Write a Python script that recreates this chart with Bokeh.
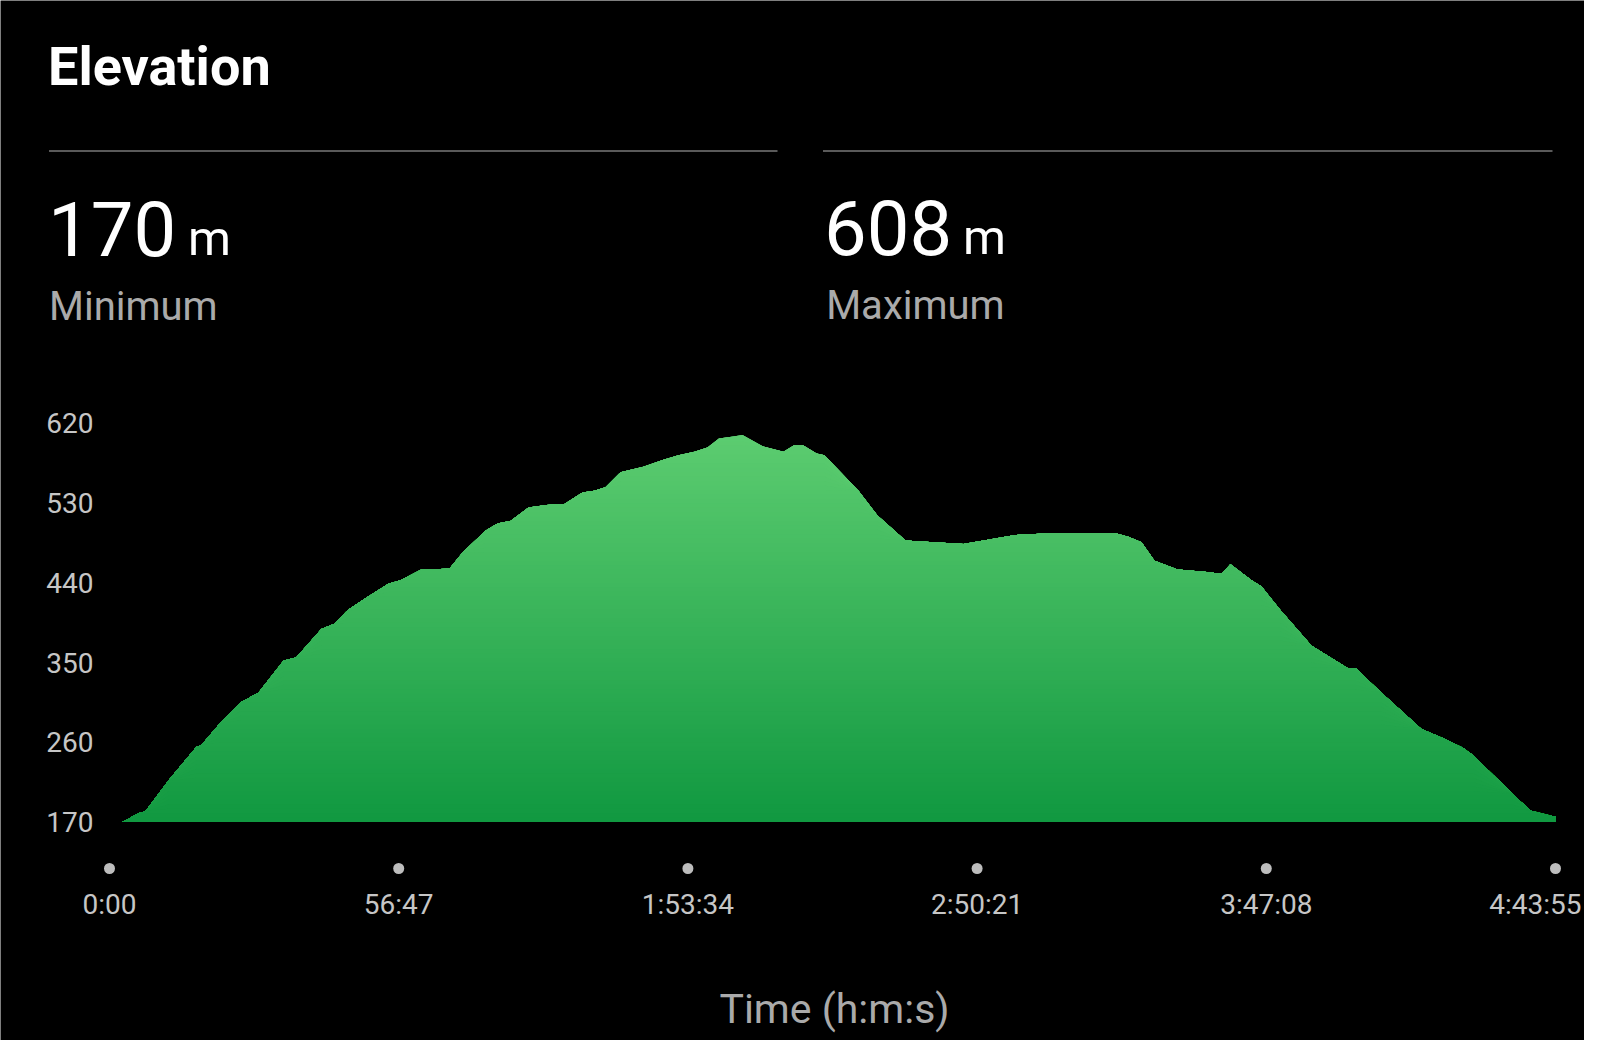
import numpy as np
from bokeh.plotting import figure
from bokeh.models import Range1d
from bokeh.core.properties import value
from bokeh.embed import file_html
from bokeh.resources import INLINE

# ---------------- data ----------------
time_s = [0, 153, 342, 424, 695, 1025, 1084, 1296, 1543, 1755, 2050, 2203, 2497, 2651,
          2804, 3039, 3287, 3428, 3675, 4005, 4158, 4429, 4571, 4724, 4936, 5148, 5360,
          5572, 5713, 5843, 6020, 6290, 6526, 6703, 6891, 7044, 7180, 7330, 7457, 7700,
          7940, 8060, 8175, 8330, 8423, 8823, 9047, 9377, 9506, 10060, 10366, 10673,
          11085, 11851, 12000, 12157, 12310, 12581, 12958, 13100, 13205, 13453, 13571,
          13795, 14160, 14584, 14678, 14984, 15455, 15726, 15938, 16068, 16527, 16739,
          16986, 17035]
elev_m = [170, 170, 180, 182, 217, 255, 257, 281, 305, 316, 352, 356, 388, 394,
          409, 424, 439, 443, 455, 456, 474, 499, 507, 510, 525, 528, 529,
          542, 544, 548, 565, 571, 579, 584, 588, 593, 603, 605, 607, 594,
          588, 595, 595, 586, 584, 544, 516, 488, 487, 484, 489, 494,
          496, 496, 492, 486, 465, 455, 452, 450, 461, 443, 436,
          409, 369, 344, 344, 316, 275, 264, 254, 245, 202, 183,
          177, 176]

min_elev = 170
max_elev = 608
y_ticks = [170, 260, 350, 440, 530, 620]
x_tick_seconds = [0, 3407, 6814, 10221, 13628, 17035]
x_tick_labels = ["0:00", "56:47", "1:53:34", "2:50:21", "3:47:08", "4:43:55"]

title_text = "Elevation"
stat_values = [str(min_elev), str(max_elev)]
stat_names = ["Minimum", "Maximum"]
x_axis_title = "Time (h:m:s)"

FONT = "Roboto"
W, H = 1584, 1040

# pixel geometry of the plotting area (canvas px)
x0_px, x1_px = 109, 1555          # time 0 .. end
base_px = 821.5                    # elevation 170
px_per_m = 0.8856
px_per_s = (x1_px - x0_px) / (x_tick_seconds[-1] - x_tick_seconds[0])

x_start = x_tick_seconds[0] - x0_px / px_per_s
x_end = x_tick_seconds[-1] + (W - x1_px) / px_per_s
y_start = min_elev - (H - base_px) / px_per_m
y_end = min_elev + base_px / px_per_m

p = figure(width=W, height=H, x_range=Range1d(x_start, x_end), y_range=Range1d(y_start, y_end),
           toolbar_location=None, output_backend="svg", min_border=0,
           x_axis_location=None, y_axis_location=None)
p.background_fill_color = "black"
p.border_fill_color = "black"
p.outline_line_color = None
p.grid.visible = False
p.extra_x_ranges = {"px": Range1d(0, W)}
p.extra_y_ranges = {"px": Range1d(H, 0)}

# ---------------- header (pixel space) ----------------
def txt(x, baseline, t, size, color, style="normal", align="left"):
    # place by visual baseline; 'middle' centres the cap height
    y = [b - 0.355 * size for b in baseline]
    p.text(x=x, y=y, text=t, x_range_name="px", y_range_name="px",
           text_font=value(FONT), text_font_size="%gpx" % size, text_font_style=style,
           text_color=color, text_baseline="middle", text_align=align)

txt([47.5], [85], [title_text], 54, "#ffffff", "bold")
p.segment(x0=[48.5, 822.5], y0=[150.5, 150.5], x1=[777, 1552], y1=[150.5, 150.5],
          x_range_name="px", y_range_name="px", line_color="#5a5a5a", line_width=2)
txt([47.5, 823.5], [255, 254], stat_values, 76, "#ffffff")
txt([187.5, 962.5], [255, 254], ["m", "m"], 49, "#ffffff")
txt([48.5, 825.7], [320, 319.5], stat_names, 40, "#aaaaaa")

# ---------------- elevation area with vertical gradient ----------------
t = np.array(time_s, dtype=float)
e = np.array(elev_m, dtype=float)
top_rgb = np.array([0x5c, 0xcc, 0x70], dtype=float)
bot_rgb = np.array([0x10, 0x98, 0x40], dtype=float)
levels = np.arange(175, 625, 5)
for hi in levels[::-1]:
    f = np.clip((hi - min_elev) / (max_elev - min_elev), 0, 1)
    c = bot_rgb + (top_rgb - bot_rgb) * f
    col = "#%02x%02x%02x" % tuple(int(round(v)) for v in c)
    p.varea(x=t, y1=np.full_like(e, min_elev), y2=np.minimum(e, hi), fill_color=col)

# ---------------- y tick labels ----------------
p.text(x=[x_tick_seconds[0]] * len(y_ticks), y=y_ticks, text=[str(v) for v in y_ticks],
       x_offset=-16, text_font=value(FONT), text_font_size="28px", text_color="#c6c6c6",
       text_align="right", text_baseline="middle")

# ---------------- x ticks: dots + labels ----------------
p.scatter(x=x_tick_seconds, y=[868] * len(x_tick_seconds), y_range_name="px",
          size=11, fill_color="#bdbdbd", line_color=None)
p.text(x=x_tick_seconds[:-1], y=[903.5] * (len(x_tick_seconds) - 1), y_range_name="px",
       text=x_tick_labels[:-1], text_font=value(FONT), text_font_size="28px",
       text_color="#c6c6c6", text_align="center", text_baseline="middle")
p.text(x=x_tick_seconds[-1:], y=[903.5], y_range_name="px", text=x_tick_labels[-1:],
       x_offset=26, text_font=value(FONT), text_font_size="28px",
       text_color="#c6c6c6", text_align="right", text_baseline="middle")

txt([834], [1023], [x_axis_title], 41, "#aaaaaa", align="center")

open("out.html", "w").write(file_html(p, INLINE))
